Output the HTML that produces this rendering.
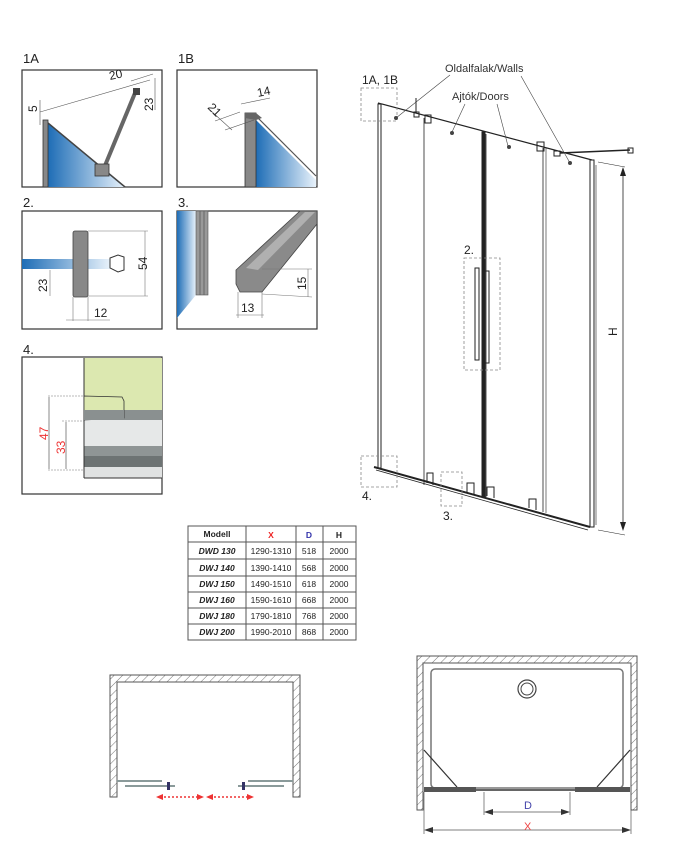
<!DOCTYPE html>
<html><head><meta charset="utf-8"><style>
html,body{margin:0;padding:0;background:#fff}
svg{display:block;font-family:"Liberation Sans","DejaVu Sans",sans-serif}
</style></head><body>
<svg width="675" height="850" viewBox="0 0 675 850" xmlns="http://www.w3.org/2000/svg">
<defs>
<linearGradient id="gb" x1="0" y1="0" x2="1" y2="0"><stop offset="0" stop-color="#1e6db6"/><stop offset="1" stop-color="#e8f2fb"/></linearGradient>
<pattern id="hat" width="6" height="6" patternUnits="userSpaceOnUse" patternTransform="rotate(45)"><line x1="0" y1="0" x2="0" y2="6" stroke="#777" stroke-width="1"/></pattern>
</defs>
<g font-size="13" fill="#222">
<text x="23" y="63">1A</text><text x="178" y="63">1B</text>
<text x="23" y="207">2.</text><text x="178" y="207">3.</text>
<text x="23" y="354">4.</text>
</g>
<!-- 1A -->
<rect x="22" y="70" width="140" height="117" fill="#fff" stroke="#333" stroke-width="1.2"/>
<polygon points="48,123 125,187 48,187" fill="url(#gb)"/>
<line x1="48" y1="123" x2="125" y2="187" stroke="#444" stroke-width="1.5"/>
<rect x="43" y="120" width="5" height="67" fill="#888" stroke="#333" stroke-width=".8"/>
<line x1="135" y1="93" x2="104" y2="168" stroke="#666" stroke-width="4"/>
<rect x="95" y="164" width="14" height="12" fill="#888" stroke="#333" stroke-width=".8"/>
<rect x="133" y="88" width="7" height="7" fill="#444"/>
<g stroke="#555" stroke-width=".6" fill="none"><line x1="40" y1="112" x2="150" y2="80"/><line x1="131" y1="81" x2="153" y2="74"/><line x1="155" y1="78" x2="155" y2="110"/><line x1="40" y1="100" x2="40" y2="125"/></g>
<g font-size="12" fill="#222"><text x="110" y="80" transform="rotate(-12 110 80)">20</text><text x="153" y="111" transform="rotate(-90 153 111)">23</text><text x="37" y="112" transform="rotate(-90 37 112)">5</text></g>
<!-- 1B -->
<rect x="177" y="70" width="140" height="117" fill="#fff" stroke="#333" stroke-width="1.2"/>
<polygon points="256,120 316,180 316,187 256,187" fill="url(#gb)"/>
<line x1="258" y1="118" x2="316" y2="176" stroke="#555" stroke-width="1.2"/>
<rect x="245" y="113" width="11" height="74" fill="#888" stroke="#333" stroke-width=".8"/>
<polygon points="245,113 256,113 262,118 256,120 245,118" fill="#666"/>
<g stroke="#555" stroke-width=".6" fill="none"><line x1="215" y1="121" x2="240" y2="112"/><line x1="225" y1="130" x2="254" y2="120"/><line x1="210" y1="110" x2="232" y2="130"/><line x1="241" y1="104" x2="270" y2="98"/></g>
<g font-size="12" fill="#222"><text x="207" y="108" transform="rotate(45 207 108)">21</text><text x="258" y="97" transform="rotate(-12 258 97)">14</text></g>
<!-- 2 -->
<rect x="22" y="211" width="140" height="118" fill="#fff" stroke="#333" stroke-width="1.2"/>
<rect x="22" y="259" width="88" height="10" fill="url(#gb)"/>
<rect x="73" y="231" width="15" height="66" rx="2" fill="#888" stroke="#444" stroke-width=".8"/>
<path d="M110 258 L118 255 L124 257 L124 270 L118 272 L110 268Z" fill="#fff" stroke="#333"/>
<g stroke="#777" stroke-width=".6" fill="none"><line x1="88" y1="231" x2="148" y2="231"/><line x1="145" y1="231" x2="145" y2="296"/><line x1="88" y1="296" x2="148" y2="296"/><line x1="50" y1="270" x2="50" y2="296"/><line x1="66" y1="320" x2="110" y2="320"/><line x1="73" y1="297" x2="73" y2="321"/><line x1="88" y1="297" x2="88" y2="321"/></g>
<g font-size="12" fill="#222"><text x="147" y="270" transform="rotate(-90 147 270)">54</text><text x="47" y="292" transform="rotate(-90 47 292)">23</text><text x="94" y="317">12</text></g>
<!-- 3 -->
<rect x="177" y="211" width="140" height="118" fill="#fff" stroke="#333" stroke-width="1.2"/>
<polygon points="177,211 196,211 196,295 177,318" fill="url(#gb)"/>
<rect x="196" y="211" width="12" height="84" fill="#999" stroke="#555" stroke-width=".6"/>
<line x1="200" y1="211" x2="200" y2="295" stroke="#666"/><line x1="204" y1="211" x2="204" y2="295" stroke="#666"/>
<polygon points="236,270 300,211 317,211 317,224 262,292 240,292 236,284" fill="#8a8a8a" stroke="#444" stroke-width=".8"/>
<polygon points="246,268 305,212 315,212 258,270" fill="#b0b0b0"/>
<g stroke="#777" stroke-width=".6" fill="none"><line x1="238" y1="292" x2="238" y2="318"/><line x1="262" y1="292" x2="262" y2="318"/><line x1="236" y1="315" x2="264" y2="315"/><line x1="262" y1="269" x2="312" y2="269"/><line x1="262" y1="294" x2="312" y2="297"/><line x1="308" y1="269" x2="308" y2="297"/></g>
<g font-size="12" fill="#222"><text x="241" y="312">13</text><text x="306" y="290" transform="rotate(-90 306 290)">15</text></g>
<!-- 4 -->
<rect x="22" y="357" width="140" height="137" fill="#fff" stroke="#333" stroke-width="1.2"/>
<rect x="84" y="358" width="78" height="52" fill="#dce8b0"/>
<rect x="84" y="410" width="78" height="10" fill="#8a9090"/>
<rect x="84" y="420" width="78" height="26" fill="#e6e8e8"/>
<rect x="84" y="446" width="78" height="10" fill="#8f9595"/>
<rect x="84" y="456" width="78" height="11" fill="#6d7373"/>
<rect x="84" y="467" width="78" height="11" fill="#e0e2e2"/>
<line x1="84" y1="358" x2="84" y2="478" stroke="#333"/><line x1="84" y1="478" x2="162" y2="478" stroke="#333"/>
<path d="M84 396 L122 397 L124 401 L124 418 L84 420Z" fill="#dce8b0" stroke="#333" stroke-width=".8"/>
<rect x="84" y="410" width="40" height="10" fill="#8a9090"/>
<g stroke="#777" stroke-width=".6" fill="none" stroke-dasharray="2,1"><line x1="48" y1="396" x2="84" y2="396"/><line x1="62" y1="421" x2="84" y2="421"/><line x1="48" y1="470" x2="84" y2="470"/></g>
<line x1="49" y1="397" x2="49" y2="469" stroke="#888"/><line x1="66" y1="422" x2="66" y2="469" stroke="#888"/>
<g font-size="12" fill="#e33"><text x="48" y="440" transform="rotate(-90 48 440)">47</text><text x="65" y="454" transform="rotate(-90 65 454)">33</text></g>
<!-- main drawing -->
<g stroke="#222" fill="none">
<line x1="378" y1="103" x2="592" y2="160" stroke-width="1.2"/>
<line x1="374" y1="467" x2="590" y2="527" stroke-width="2"/>
<line x1="376" y1="470" x2="588" y2="530" stroke-width=".8"/>
<rect x="378" y="104" width="3" height="364" stroke-width="1"/>
<rect x="590" y="160" width="4" height="367" stroke-width="1"/>
<line x1="596" y1="165" x2="596" y2="525" stroke-width=".6"/>
<line x1="424" y1="118" x2="424" y2="485" stroke-width=".8"/>
<rect x="482" y="132" width="3" height="365" fill="#222"/>
<line x1="486" y1="134" x2="486" y2="497" stroke-width=".8"/>
<line x1="543" y1="148" x2="543" y2="512" stroke-width=".8"/>
<line x1="546" y1="148" x2="546" y2="513" stroke-width=".6"/>
<rect x="475" y="268" width="4" height="92" stroke-width="1"/>
<rect x="485" y="271" width="4" height="92" stroke-width="1"/>
<rect x="414" y="112" width="5" height="5"/>
<line x1="416" y1="98" x2="416" y2="113"/>
<rect x="425" y="115" width="6" height="8"/>
<rect x="537" y="142" width="7" height="9"/>
<rect x="554" y="151" width="6" height="5"/>
<line x1="560" y1="153" x2="630" y2="150" stroke-width="1.5"/>
<rect x="628" y="148" width="5" height="5"/>
<path d="M427 483 v-10 h6 v12 M467 492 v-9 h7 v11 M487 496 v-9 h7 v11 M529 508 v-9 h7 v11"/>
<line x1="598" y1="162" x2="625" y2="167" stroke-width=".5"/>
<line x1="598" y1="530" x2="625" y2="535" stroke-width=".5"/>
<line x1="623" y1="170" x2="623" y2="528" stroke-width=".8"/>
</g>
<polygon points="623,167 620,176 626,176" fill="#222"/><polygon points="623,531 620,522 626,522" fill="#222"/>
<text x="617" y="336" font-size="12" fill="#222" transform="rotate(-90 617 336)">H</text>
<g stroke="#888" stroke-width=".8" fill="none" stroke-dasharray="3,2">
<rect x="361" y="88" width="36" height="33"/><rect x="464" y="258" width="36" height="112"/>
<rect x="361" y="456" width="36" height="31"/><rect x="441" y="472" width="21" height="34"/>
</g>
<g font-size="12" fill="#222"><text x="362" y="84">1A, 1B</text><text x="464" y="254">2.</text><text x="362" y="500">4.</text><text x="443" y="520">3.</text></g>
<g font-size="11" fill="#333"><text x="445" y="72">Oldalfalak/Walls</text><text x="452" y="100">Ajtók/Doors</text></g>
<g stroke="#444" stroke-width=".6"><line x1="450" y1="75" x2="396" y2="118"/><line x1="521" y1="76" x2="570" y2="163"/><line x1="465" y1="104" x2="452" y2="132"/><line x1="497" y1="104" x2="508" y2="146"/></g>
<g fill="#444"><circle cx="396" cy="118" r="2"/><circle cx="452" cy="133" r="2"/><circle cx="509" cy="147" r="2"/><circle cx="570" cy="163" r="2"/></g>
<!-- table -->
<g stroke="#555" stroke-width="1" fill="none">
<rect x="188" y="526" width="168" height="114"/>
<line x1="246" y1="526" x2="246" y2="640"/><line x1="296" y1="526" x2="296" y2="640"/><line x1="323" y1="526" x2="323" y2="640"/>
<line x1="188" y1="542" x2="356" y2="542"/><line x1="188" y1="559" x2="356" y2="559"/><line x1="188" y1="576" x2="356" y2="576"/><line x1="188" y1="592" x2="356" y2="592"/><line x1="188" y1="608" x2="356" y2="608"/><line x1="188" y1="624" x2="356" y2="624"/>
</g>
<g font-size="8.5" fill="#222" text-anchor="middle">
<text x="217" y="537" font-weight="bold">Modell</text><text x="271" y="538" font-weight="bold" fill="#e22">X</text><text x="309" y="538" font-weight="bold" fill="#33a">D</text><text x="339" y="538" font-weight="bold">H</text>
<g font-weight="bold" font-style="italic"><text x="217" y="554">DWD 130</text><text x="217" y="571">DWJ 140</text><text x="217" y="587">DWJ 150</text><text x="217" y="603">DWJ 160</text><text x="217" y="619">DWJ 180</text><text x="217" y="635">DWJ 200</text></g>
<text x="271" y="554">1290-1310</text><text x="271" y="571">1390-1410</text><text x="271" y="587">1490-1510</text><text x="271" y="603">1590-1610</text><text x="271" y="619">1790-1810</text><text x="271" y="635">1990-2010</text>
<text x="309" y="554">518</text><text x="309" y="571">568</text><text x="309" y="587">618</text><text x="309" y="603">668</text><text x="309" y="619">768</text><text x="309" y="635">868</text>
<g><text x="339" y="554">2000</text><text x="339" y="571">2000</text><text x="339" y="587">2000</text><text x="339" y="603">2000</text><text x="339" y="619">2000</text><text x="339" y="635">2000</text></g>
</g>
<!-- bottom left plan -->
<path d="M110 675 H300 V797 H293 V682 H117 V797 H110Z" fill="url(#hat)" stroke="#555"/>
<g stroke="#8a9a9a" stroke-width="2"><line x1="117" y1="781" x2="162" y2="781"/><line x1="125" y1="786" x2="175" y2="786"/><line x1="248" y1="781" x2="293" y2="781"/><line x1="238" y1="786" x2="284" y2="786"/></g>
<rect x="167" y="782" width="3" height="8" fill="#336"/><rect x="242" y="782" width="3" height="8" fill="#336"/>
<g stroke="#e33" stroke-width="1.5" stroke-dasharray="2,2"><line x1="160" y1="797" x2="200" y2="797"/><line x1="210" y1="797" x2="250" y2="797"/></g>
<g fill="#e33"><polygon points="156,797 163,794 163,800"/><polygon points="204,797 197,794 197,800"/><polygon points="206,797 213,794 213,800"/><polygon points="254,797 247,794 247,800"/></g>
<!-- bottom right plan -->
<path d="M417 656 H637 V810 H631 V663 H423 V810 H417Z" fill="url(#hat)" stroke="#555"/>
<rect x="431" y="669" width="192" height="119" rx="4" fill="none" stroke="#777" stroke-width="1.5"/>
<circle cx="527" cy="689" r="9" fill="none" stroke="#444" stroke-width="1.2"/><circle cx="527" cy="689" r="6" fill="none" stroke="#444"/>
<g stroke="#333" stroke-width="1.2"><line x1="424" y1="750" x2="457" y2="787"/><line x1="630" y1="750" x2="597" y2="787"/></g>
<rect x="424" y="787" width="52" height="5" fill="#555"/><rect x="575" y="787" width="55" height="5" fill="#555"/>
<line x1="476" y1="790" x2="575" y2="790" stroke="#333" stroke-width="1.5"/>
<g stroke="#555" stroke-width=".7"><line x1="484" y1="792" x2="484" y2="815"/><line x1="570" y1="792" x2="570" y2="815"/><line x1="424" y1="792" x2="424" y2="834"/><line x1="631" y1="792" x2="631" y2="834"/><line x1="487" y1="812" x2="567" y2="812"/><line x1="427" y1="830" x2="628" y2="830"/></g>
<g fill="#333"><polygon points="484,812 493,809 493,815"/><polygon points="570,812 561,809 561,815"/><polygon points="424,830 433,827 433,833"/><polygon points="631,830 622,827 622,833"/></g>
<text x="524" y="809" font-size="11" fill="#44a">D</text><text x="524" y="830" font-size="11" fill="#e44">X</text>
</svg>
</body></html>
